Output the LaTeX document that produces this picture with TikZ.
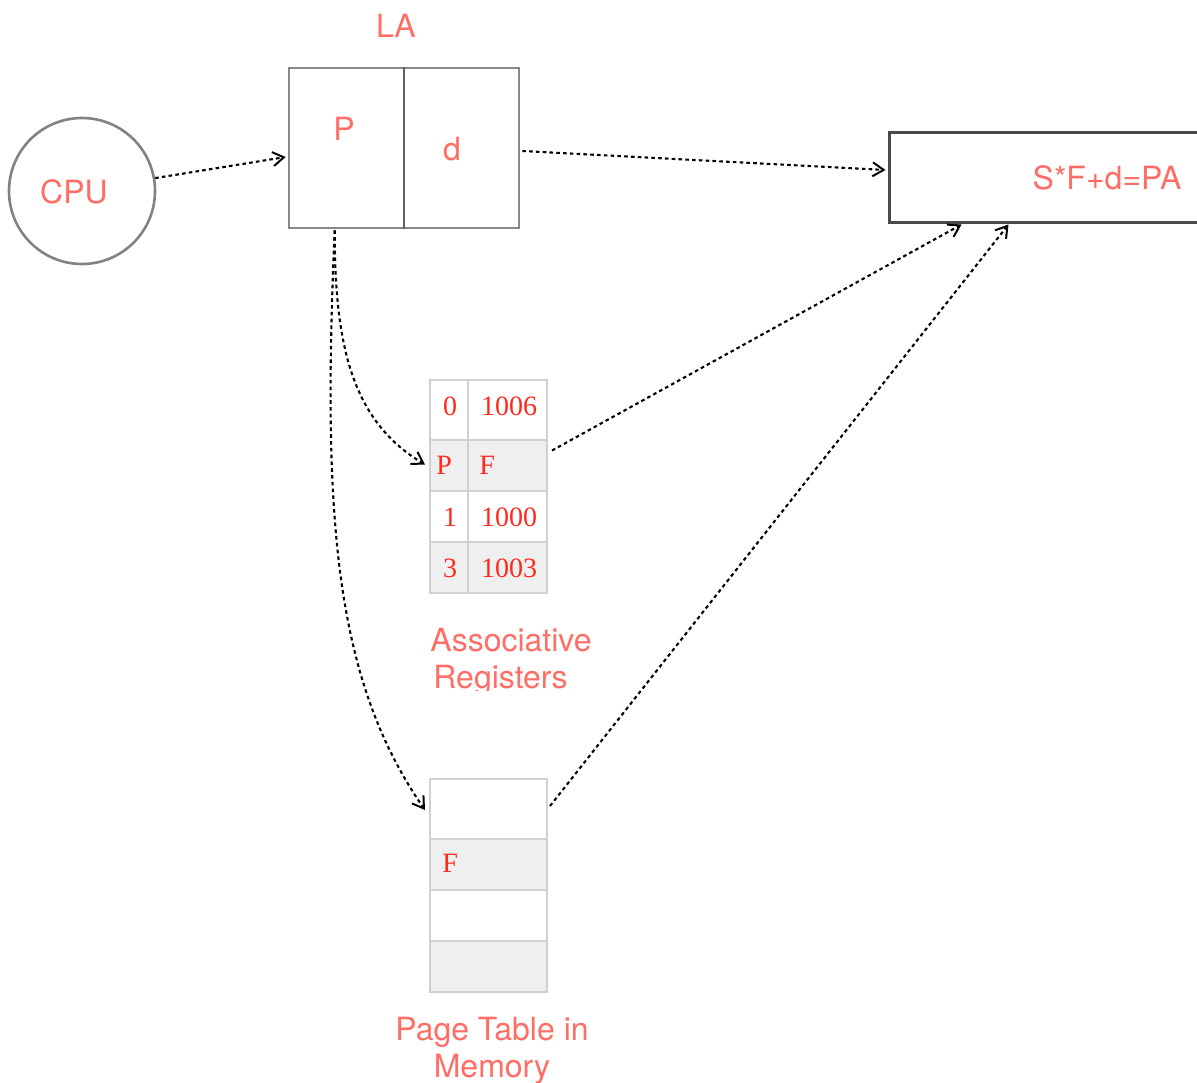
\documentclass[tikz,border=0pt]{standalone}
\usepackage{fontspec}
\setmainfont{TeX Gyre Heros}
\newfontfamily\tabfont{Liberation Serif}
\usetikzlibrary{arrows.meta,calc}

\definecolor{labelred}{HTML}{FF6E66}
\definecolor{cellred}{HTML}{FF2A1E}
\definecolor{circlegray}{HTML}{818286}
\definecolor{boxgray}{HTML}{86888C}
\definecolor{splitgray}{HTML}{5E6166}
\definecolor{pagray}{HTML}{4A4A4A}
\definecolor{gridgray}{HTML}{D0D0D0}
\definecolor{shade}{HTML}{EFEFEF}

\tikzset{
  label/.style={text=labelred, font=\fontsize{16}{19}\selectfont, inner sep=0pt, anchor=base},
  cellnum/.style={text=cellred, font=\tabfont\fontsize{14}{16}\selectfont, inner sep=0pt, anchor=base},
  cellrow/.style={draw=gridgray, line width=0.6pt, minimum width=58.5pt, inner sep=0pt, outer sep=0pt},
  gridline/.style={draw=gridgray, line width=0.6pt},
  link/.style={draw=black, line width=1.05pt, dash pattern=on 1.8pt off 1.6pt,
    -{Straight Barb[length=5.5pt,width=7pt,line width=1pt]}}
}

\begin{document}
\begin{tikzpicture}[x=0.5pt,y=-0.5pt]
\useasboundingbox (0,0) rectangle (1197,1082);

% CPU
\node[circle, draw=circlegray, line width=1.3pt, minimum size=73pt, inner sep=0pt] (cpu) at (82,191) {};
\node[label] (cputext) at (74,203) {CPU};

% logical address split into page number and offset
\node[draw=boxgray, line width=1.3pt, minimum width=115pt, minimum height=80pt, inner sep=0pt] (la) at (404,148) {};
\draw[splitgray, line width=1.3pt] (la.north) -- (la.south);
\node[label] (latext) at (396,37) {LA};
\node[label] (ptext) at (344,140) {P};
\node[label] (dtext) at (452,160) {d};

% physical address
\node[draw=pagray, line width=1.5pt, minimum width=205.5pt, minimum height=45pt, inner sep=0pt] (pa) at (1094.5,177) {};
\node[label] (patext) at (1107,189) {S*F+d=PA};

% associative registers
\node[cellrow, fill=white, minimum height=30pt] (ar1) at (488.5,410) {};
\node[cellrow, fill=shade, minimum height=25.5pt] (ar2) at (488.5,465.5) {};
\node[cellrow, fill=white, minimum height=25.5pt] (ar3) at (488.5,516.5) {};
\node[cellrow, fill=shade, minimum height=25.5pt] (ar4) at (488.5,567.5) {};
\draw[gridline] ($(ar1.north west)+(38,0)$) -- ($(ar4.south west)+(38,0)$);
\node[cellnum] (k0) at (450,415) {0};
\node[cellnum] (v0) at (509,415) {1006};
\node[cellnum, anchor=base west] (kp) at (436,474) {P};
\node[cellnum, anchor=base west] (vf) at (479,474) {F};
\node[cellnum] (k1) at (450,526) {1};
\node[cellnum] (v1) at (509,526) {1000};
\node[cellnum] (k3) at (450,577) {3};
\node[cellnum] (v3) at (509,577) {1003};

\node[label, anchor=base west] (artext1) at (430,651) {Associative};
\begin{scope}
  \clip (0,0) rectangle (1197,690);
  \node[label, anchor=base west] (artext2) at (433,688) {Registers};
\end{scope}

% page table in memory
\node[cellrow, fill=white, minimum height=30pt] (pt1) at (488.5,809) {};
\node[cellrow, fill=shade, minimum height=25.5pt] (pt2) at (488.5,864.5) {};
\node[cellrow, fill=white, minimum height=25.5pt] (pt3) at (488.5,915.5) {};
\node[cellrow, fill=shade, minimum height=25.5pt] (pt4) at (488.5,966.5) {};
\node[cellnum, anchor=base west] (ptf) at (442,872) {F};
\node[label] (pttext1) at (492,1040) {Page Table in};
\node[label] (pttext2) at (492,1077) {Memory};

% connectors
\draw[link] (cpu.10) -- ($(la.west)+(-2,9)$);
\draw[link] ($(la.east)+(2,3)$) -- ($(pa.west)+(-2,-7)$);
\draw[link] ($(la.south west)+(47,1)$) .. controls ($(la.south west)+(47,112)$) and (350,420) .. ($(ar2.west)+(-5,-1)$);
\draw[link] ($(la.south west)+(47,1)$) .. controls (322,520) and (335,680) .. ($(pt1.west)+(-5,1)$);
\draw[link] ($(ar2.east)+(5,-15)$) -- ($(pa.south west)+(74,1)$);
\draw[link] ($(pt1.east)+(3,-3)$) -- ($(pa.south west)+(121,1)$);
\end{tikzpicture}
\end{document}
